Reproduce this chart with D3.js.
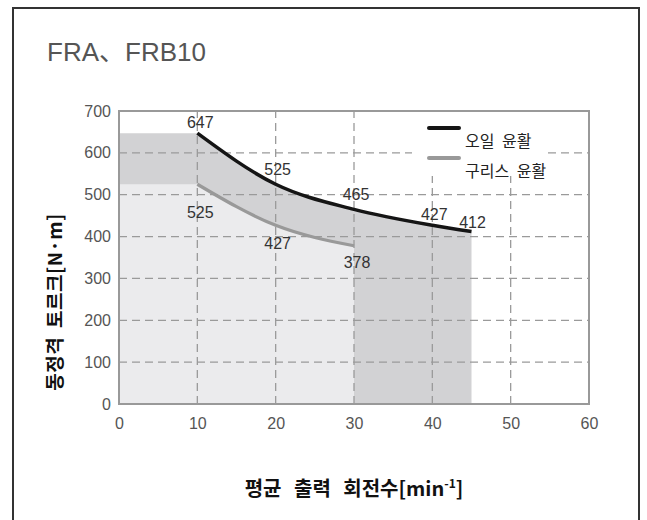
<!DOCTYPE html>
<html><head><meta charset="utf-8">
<script src="https://cdn.jsdelivr.net/npm/d3@7"></script>
<style>body{margin:0;background:#fff}svg{display:block}</style>
</head><body>
<script>
const title = "FRA、FRB10";
const yTitle = "동정격 토르크[N·m]";
const xTitleMain = "평균 출력 회전수[min";
const xTitleSup = "-1";
const xTitleEnd = "]";
const xTicks = [0, 10, 20, 30, 40, 50, 60];
const yTicks = [0, 100, 200, 300, 400, 500, 600, 700];
const seriesNames = ["오일 윤활", "구리스 윤활"];
const oilSpeed = [10, 20, 30, 40, 45];
const oilTorque = [647, 525, 465, 427, 412];
const greaseSpeed = [10, 20, 30];
const greaseTorque = [525, 427, 378];
const oilStartSpeed = 0;
const greaseStartSpeed = 0;

const W = 647, H = 520;
const svg = d3.select("body").append("svg").attr("width", W).attr("height", H);
svg.append("rect").attr("width", W).attr("height", H).attr("fill", "#fff");

// outer frame (bottom edge runs off the picture)
svg.append("path").attr("d", `M13,${H+5} L13,8 L639,8 L639,${H+5}`)
  .attr("fill", "none").attr("stroke", "#333").attr("stroke-width", 2);

svg.append("text").attr("x", 47).attr("y", 61).text(title)
  .attr("font-family", "'Liberation Sans', 'Noto Sans CJK KR', sans-serif")
  .attr("font-size", 26).attr("fill", "#555");

const x = d3.scaleLinear().domain([0, 60]).range([119, 589]);
const y = d3.scaleLinear().domain([0, 700]).range([404, 111]);

const oil = oilSpeed.map((s, i) => [s, oilTorque[i]]);
const grease = greaseSpeed.map((s, i) => [s, greaseTorque[i]]);
const line = d3.line().x(d => x(d[0])).y(d => y(d[1])).curve(d3.curveMonotoneX);

// dark area: flat band at start, then under oil curve
const oilPath = line(oil);
const darkD = `M${x(oilStartSpeed)},${y(0)}L${x(oilStartSpeed)},${y(oilTorque[0])}L` + oilPath.slice(1) +
  `L${x(oilSpeed[oilSpeed.length-1])},${y(0)}Z`;
svg.append("path").attr("d", darkD).attr("fill", "#d2d2d4");
const greasePath = line(grease);
const lightD = `M${x(greaseStartSpeed)},${y(0)}L${x(greaseStartSpeed)},${y(greaseTorque[0])}L` + greasePath.slice(1) +
  `L${x(greaseSpeed[greaseSpeed.length-1])},${y(0)}Z`;
svg.append("path").attr("d", lightD).attr("fill", "#ebebed");

// grid
const grid = svg.append("g").attr("stroke", "#9a9a9a").attr("stroke-width", 1.3).attr("stroke-dasharray", "8,5");
xTicks.slice(1, -1).forEach(t => grid.append("line").attr("x1", x(t)).attr("x2", x(t)).attr("y1", y(0)).attr("y2", y(700)));
yTicks.slice(1, -1).forEach(t => grid.append("line").attr("x1", x(0)).attr("x2", x(60)).attr("y1", y(t)).attr("y2", y(t)));

// legend box (white, hides grid)
svg.append("rect").attr("x", 412).attr("y", 112).attr("width", 136).attr("height", 64).attr("fill", "#fff");

// axes via d3.axis (no tick marks)
const fontNum = "'Liberation Sans', Arial, sans-serif";
const xAxis = svg.append("g").attr("transform", `translate(0,${y(0)})`)
  .call(d3.axisBottom(x).tickValues(xTicks).tickSize(0).tickPadding(14).tickFormat(d3.format("d")));
const yAxis = svg.append("g").attr("transform", `translate(${x(0)},0)`)
  .call(d3.axisLeft(y).tickValues(yTicks).tickSize(0).tickPadding(8).tickFormat(d3.format("d")));
[xAxis, yAxis].forEach(a => {
  a.select(".domain").remove();
  a.selectAll("text").attr("font-family", fontNum).attr("font-size", 16).attr("fill", "#555");
});

// plot frame
svg.append("rect").attr("x", x(0)).attr("y", y(700)).attr("width", x(60) - x(0)).attr("height", y(0) - y(700))
  .attr("fill", "none").attr("stroke", "#999").attr("stroke-width", 2);

// curves
svg.append("path").attr("d", greasePath).attr("fill", "none").attr("stroke", "#999").attr("stroke-width", 3.2);
svg.append("path").attr("d", oilPath).attr("fill", "none").attr("stroke", "#151515").attr("stroke-width", 3.5);

// value labels
const lab = svg.append("g").attr("font-family", fontNum).attr("font-size", 16).attr("fill", "#333").attr("text-anchor", "middle");
const oilLabelPos = [[3, -5], [2, -9], [2, -9], [2, -5], [1, -4]];
oil.forEach((d, i) => lab.append("text").attr("x", x(d[0]) + oilLabelPos[i][0]).attr("y", y(d[1]) + oilLabelPos[i][1]).text(d[1]));
const greaseLabelPos = [[3, 34], [2, 24], [3, 22]];
grease.forEach((d, i) => lab.append("text").attr("x", x(d[0]) + greaseLabelPos[i][0]).attr("y", y(d[1]) + greaseLabelPos[i][1]).text(d[1]));

// legend
const lg = svg.append("g");
const legendColors = ["#151515", "#999"];
seriesNames.forEach((n, i) => {
  const ly = 128 + i * 30;
  lg.append("line").attr("x1", 429).attr("x2", 459).attr("y1", ly).attr("y2", ly)
    .attr("stroke", legendColors[i]).attr("stroke-width", 4).attr("stroke-linecap", "round");
  lg.append("text").attr("x", 465).attr("y", ly + 19).text(n)
    .attr("font-family", "'Noto Sans CJK KR', sans-serif").attr("font-size", 16).attr("fill", "#222")
    .attr("word-spacing", 4);
});

// axis titles
svg.append("text").attr("transform", "translate(62,302) rotate(-90)").attr("text-anchor", "middle")
  .attr("font-family", "'Noto Sans CJK KR', sans-serif").attr("font-weight", "bold").attr("font-size", 19)
  .attr("fill", "#111").attr("letter-spacing", 0.5).attr("word-spacing", 4).text(yTitle);
const xt = svg.append("text").attr("x", 354).attr("y", 496).attr("text-anchor", "middle")
  .attr("font-family", "'Noto Sans CJK KR', sans-serif").attr("font-weight", "bold").attr("font-size", 20)
  .attr("fill", "#111").attr("word-spacing", 8);
xt.append("tspan").text(xTitleMain);
xt.append("tspan").attr("font-size", 12).attr("dy", -8).text(xTitleSup);
xt.append("tspan").attr("dy", 8).text(xTitleEnd);
</script>
</body></html>
